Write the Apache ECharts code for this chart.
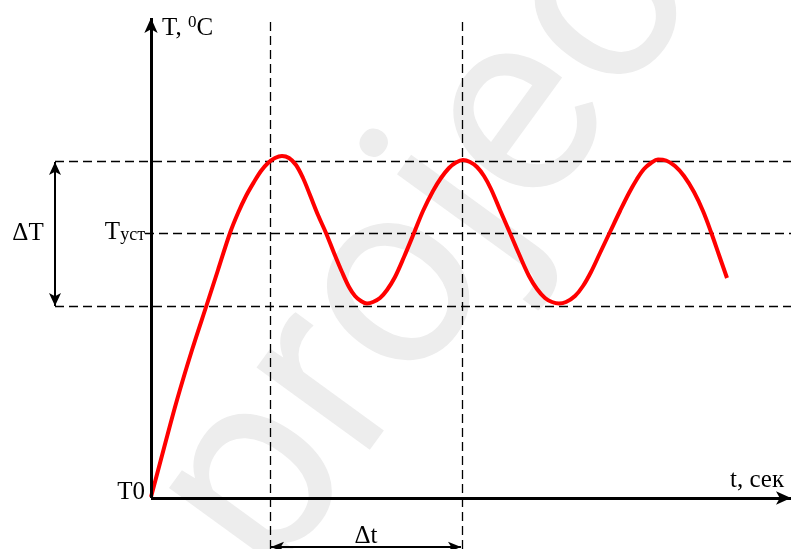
<!DOCTYPE html>
<html>
<head>
<meta charset="utf-8">
<script src="https://cdn.jsdelivr.net/npm/echarts@6/dist/echarts.min.js"></script>
<style>
  html, body { margin: 0; padding: 0; background: #ffffff; }
  #chart { width: 791px; height: 549px; }
</style>
</head>
<body>
<div id="chart"></div>
<script>
// Temperature response: rise from T0, then oscillation around Tуст
const timeS = [0, 13, 26, 41, 56, 67, 79, 87, 95, 103, 110, 117, 124, 131, 138, 145, 152, 159,
               167, 175, 183, 191, 198, 204, 210, 216, 222, 229, 236, 244, 253, 263, 272, 282,
               290, 298, 305, 312, 319, 326, 333, 340, 349, 359, 368, 378, 386, 394, 401, 408,
               415, 424, 432, 440, 449, 459, 469, 478, 486, 493, 500, 507, 515, 524, 533, 543,
               552, 560, 568, 576];
const tempC = [1, 50, 98, 148, 194, 228, 265, 285, 302, 316, 327, 335, 340, 342, 340, 333, 320, 303,
               283, 265, 245, 226, 211, 202, 197, 194.5, 196, 200, 208, 221, 241, 265, 287, 307,
               320, 330, 335.5, 338, 336, 331, 322, 309, 288, 265, 244, 222, 209, 200, 196, 194.5,
               196, 202, 212, 226, 245, 266, 287, 305, 319, 329, 335, 338.5, 337.5, 332, 322, 306,
               287, 266, 243, 220];

// Characteristic levels of the oscillation
const tempHigh = 337;   // upper bound of ΔT
const tempSet = 265;    // Tуст
const tempLow = 192;    // lower bound of ΔT
// Times of the two guides that bound one period Δt
const periodStart = 119;
const periodEnd = 311;

// Axis extents
const tMin = -151, tMax = 640;
const yMin = -51, yMax = 480;

const curve = timeS.map((t, i) => [t, tempC[i]]);

const chart = echarts.init(document.getElementById('chart'), null, { renderer: 'canvas' });

const dash = { color: '#000', width: 1.3, type: [9, 5] };
const solid = (w) => ({ color: '#000', width: w, type: 'solid' });

const option = {
  animation: false,
  backgroundColor: '#ffffff',
  grid: { left: 0, right: 0, top: 18, bottom: 0 },
  xAxis: { type: 'value', min: tMin, max: tMax, show: false },
  yAxis: { type: 'value', min: yMin, max: yMax, show: false },
  series: [
    {
      type: 'line',
      data: curve,
      smooth: 0.35,
      symbol: 'none',
      z: 5,
      lineStyle: { color: '#ff0000', width: 4, join: 'round', cap: 'butt' },
      markLine: {
        silent: true,
        symbol: 'none',
        label: { show: false },
        z: 3,
        data: [
          [{ coord: [-96, tempHigh], lineStyle: dash }, { coord: [tMax, tempHigh] }],
          [{ coord: [-6, tempSet], lineStyle: dash }, { coord: [tMax, tempSet] }],
          [{ coord: [-96, tempLow], lineStyle: dash }, { coord: [tMax, tempLow] }],
          [{ coord: [periodStart, yMin], lineStyle: dash }, { coord: [periodStart, yMax] }],
          [{ coord: [periodEnd, yMin], lineStyle: dash }, { coord: [periodEnd, yMax] }]
        ]
      }
    },
    {
      // axes and dimension arrows
      type: 'line',
      data: [],
      markLine: {
        silent: true,
        label: { show: false },
        z: 6,
        data: [
          [{ coord: [0, 0], symbol: 'none', lineStyle: solid(3) },
           { coord: [tMax, 0], symbol: 'arrow', symbolSize: [10, 15] }],
          [{ coord: [0, 0], symbol: 'none', lineStyle: solid(3) },
           { coord: [0, yMax], symbol: 'arrow', symbolSize: [10, 15] }],
          [{ coord: [-96, tempHigh - 1], symbol: 'arrow', symbolSize: [9, 13], lineStyle: solid(2) },
           { coord: [-96, tempLow], symbol: 'arrow', symbolSize: [9, 13] }],
          [{ coord: [periodStart + 1, -49], symbol: 'arrow', symbolSize: [8, 13], lineStyle: solid(2) },
           { coord: [periodEnd - 1, -49], symbol: 'arrow', symbolSize: [8, 13] }]
        ]
      }
    }
  ]
};

chart.setOption(option);

// Text annotations anchored through the chart's coordinate system
const px = (x, y) => chart.convertToPixel({ gridIndex: 0 }, [x, y]);
const serif = '"Liberation Serif", "Times New Roman", serif';

function label(pos, text, rich, align) {
  return {
    type: 'text',
    x: pos[0], y: pos[1],
    z: 20,
    style: {
      text: text,
      rich: rich,
      fill: '#000',
      font: '25px ' + serif,
      textAlign: align,
      textVerticalAlign: 'middle'
    }
  };
}

const main = { fontSize: 25, fontFamily: serif, color: '#000' };
const sup = { fontSize: 17, fontFamily: serif, color: '#000', verticalAlign: 'top', padding: [0, 0, 10, 0] };
const sub = { fontSize: 18, fontFamily: serif, color: '#000', verticalAlign: 'bottom', padding: [6, 0, 0, 0] };

const pYLabel = px(11, 470);
const pDeltaT = px(-123, (tempHigh + tempLow) / 2);
const pSet = px(-6, tempSet + 1);
const pT0 = px(-6, 6);
const pTime = px(579, 18);
const pDeltaTime = px((periodStart + periodEnd) / 2, -38);

// Watermark behind the chart
const wm = px(67, -48);

chart.setOption({
  graphic: [
    {
      type: 'text',
      x: wm[0], y: wm[1],
      rotation: 54 * Math.PI / 180,
      z: -10,
      silent: true,
      style: {
        text: 'project',
        fill: '#ededed',
        font: '265px Roboto, "Open Sans", sans-serif',
        textAlign: 'left',
        textVerticalAlign: 'middle'
      }
    },
    label(pYLabel, '{m|T, }{s|0}{m|C}', { m: main, s: sup }, 'left'),
    label(pDeltaT, '{m|ΔT}', { m: main }, 'center'),
    label(pSet, '{m|T}{u|уст}', { m: main, u: sub }, 'right'),
    label(pT0, '{m|T0}', { m: main }, 'right'),
    label(pTime, '{m|t, сек}', { m: main }, 'left'),
    label(pDeltaTime, '{m|Δt}', { m: main }, 'center')
  ]
});
</script>
</body>
</html>
